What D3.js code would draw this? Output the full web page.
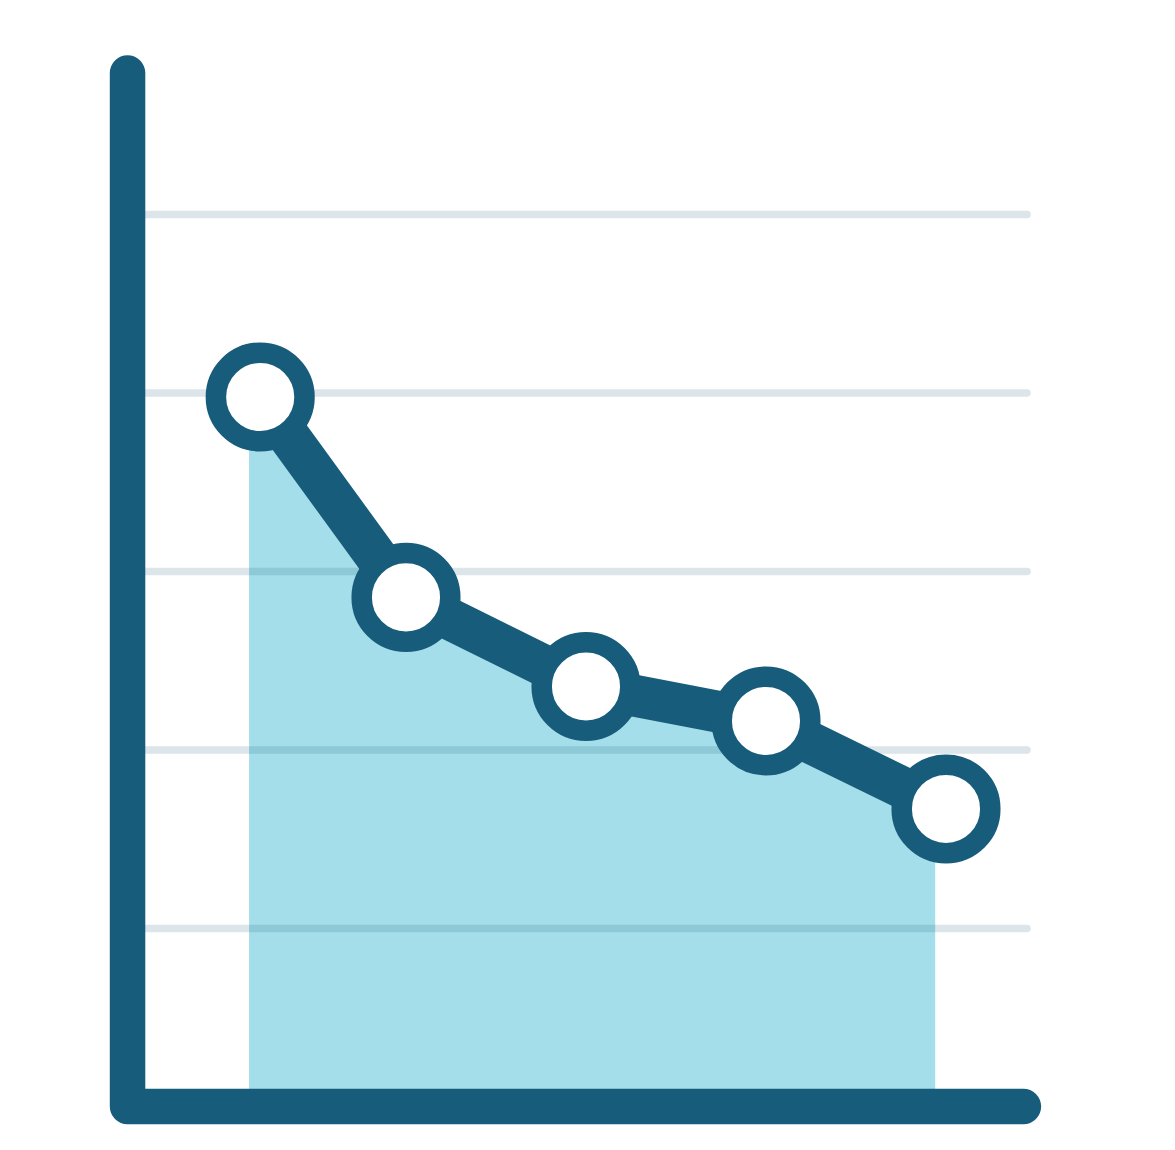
<!DOCTYPE html>
<html>
<head>
<meta charset="utf-8">
<script src="https://cdn.jsdelivr.net/npm/d3@7"></script>
<style>
  html, body { margin: 0; padding: 0; background: #ffffff; }
  svg { display: block; }
</style>
</head>
<body>
<svg id="chart" width="1175" height="1150"></svg>
<script>
// ---- data ----
const xValues = [0.19, 1, 2, 3, 4];
const yValues = [3.975, 2.852, 2.353, 2.16, 1.667];
const gridTicks = [1, 2, 3, 4, 5];
const areaExtent = [0.128, 3.94];
const xAxisExtent = [-0.547, 4.43];
const yAxisExtent = [0, 5.79];
const gridExtent = [-0.547, 4.45];

// ---- colors ----
const dark = "#175c7b";
const fill = "#a4deea";

const svg = d3.select("#chart");

const x = d3.scaleLinear().domain([0, 4]).range([226, 946]);
const y = d3.scaleLinear().domain([0, 5]).range([1106.5, 214]);

const pts = xValues.map((d, i) => ({ x: d, y: yValues[i] }));

// area (clipped to its horizontal extent)
svg.append("clipPath").attr("id", "areaClip")
  .append("rect")
  .attr("x", x(areaExtent[0]))
  .attr("y", 0)
  .attr("width", x(areaExtent[1]) - x(areaExtent[0]))
  .attr("height", y(0));

const areaPts = [{ x: areaExtent[0], y: yValues[0] }].concat(pts);
const area = d3.area()
  .x(d => x(d.x))
  .y0(y(0))
  .y1(d => y(d.y));

svg.append("path")
  .datum(areaPts)
  .attr("clip-path", "url(#areaClip)")
  .attr("d", area)
  .attr("fill", fill);

// gridlines via axis
const grid = svg.append("g")
  .attr("transform", `translate(${x(gridExtent[0])},0)`)
  .call(d3.axisRight(y)
    .tickValues(gridTicks)
    .tickSize(x(gridExtent[1]) - x(gridExtent[0]))
    .tickFormat(""));
grid.select(".domain").remove();
grid.selectAll(".tick line")
  .attr("stroke", dark)
  .attr("stroke-opacity", 0.155)
  .attr("stroke-width", 7.5)
  .attr("stroke-linecap", "round");

// axes as one rounded L path
const axisPath = d3.line()([
  [x(xAxisExtent[0]), y(yAxisExtent[1])],
  [x(xAxisExtent[0]), y(yAxisExtent[0])],
  [x(xAxisExtent[1]), y(yAxisExtent[0])]
]);
svg.append("path")
  .attr("d", axisPath)
  .attr("fill", "none")
  .attr("stroke", dark)
  .attr("stroke-width", 35.5)
  .attr("stroke-linecap", "round")
  .attr("stroke-linejoin", "round");

// line
const line = d3.line().x(d => x(d.x)).y(d => y(d.y));
svg.append("path")
  .datum(pts)
  .attr("d", line)
  .attr("fill", "none")
  .attr("stroke", dark)
  .attr("stroke-width", 42)
  .attr("stroke-linejoin", "round");

// points
svg.selectAll("circle.pt")
  .data(pts)
  .join("circle")
  .attr("class", "pt")
  .attr("cx", d => x(d.x))
  .attr("cy", d => y(d.y))
  .attr("r", 44.3)
  .attr("fill", "#ffffff")
  .attr("stroke", dark)
  .attr("stroke-width", 20.5);
</script>
</body>
</html>
